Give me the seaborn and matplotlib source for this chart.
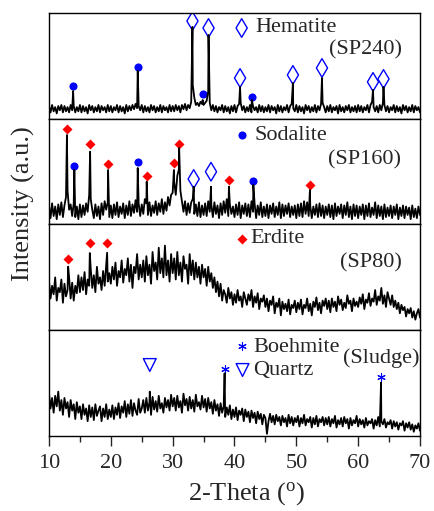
import numpy as np
import pandas as pd
import matplotlib.pyplot as plt
import seaborn as sns

sns.set_style("ticks")
plt.rcParams['font.family'] = ['Liberation Serif', 'DejaVu Serif']
plt.rcParams['mathtext.fontset'] = 'custom'
plt.rcParams['mathtext.rm'] = 'Liberation Serif'

# scan grid, 10-70 deg in 0.25 deg steps (intensities in arbitrary units 0-100 per panel)
two_theta = np.arange(241) * 0.25 + 10

# ---------------- SP240 ----------------
sp240_base = [12, 6, 13, 7, 11, 5, 12, 8, 13, 6, 12, 7, 11, 6, 13, 8, 12, 6, 11, 7,
              13, 6, 12, 7, 11, 5, 13, 8, 12, 6, 11, 7, 13, 6, 12, 8, 11, 6, 13, 7,
              12, 6, 11, 8, 13, 6, 12, 7, 11, 5, 13, 7, 12, 8, 13, 9, 14, 10, 12, 8,
              13, 6, 12, 7, 11, 6, 13, 8, 12, 6, 11, 7, 13, 6, 12, 8, 11, 6, 13, 7,
              12, 7, 13, 8, 12, 6, 13, 9, 14, 8, 13, 10, 16, 32, 20, 13, 15, 12, 16, 14,
              13, 15, 17, 26, 15, 8, 13, 7, 12, 6, 11, 8, 13, 6, 12, 7, 11, 5, 12, 7,
              13, 6, 12, 14, 15, 8, 12, 6, 11, 7, 13, 6, 12, 8, 11, 6, 13, 7, 12, 6,
              11, 7, 13, 6, 12, 8, 11, 5, 13, 7, 12, 6, 11, 8, 13, 6, 12, 14, 10, 7,
              13, 6, 12, 7, 11, 5, 13, 8, 12, 6, 11, 7, 13, 6, 12, 8, 14, 15, 11, 6,
              12, 7, 13, 6, 11, 8, 12, 5, 13, 7, 11, 6, 12, 8, 13, 6, 11, 7, 12, 6,
              13, 7, 12, 6, 11, 8, 13, 6, 13, 16, 11, 7, 12, 6, 13, 8, 15, 13, 7, 12,
              6, 11, 8, 13, 6, 12, 7, 11, 5, 13, 8, 12, 6, 11, 7, 13, 6, 12, 8, 11, 6]
sp240_peak_x = [13.9, 24.35, 33.2, 34.85, 35.8, 40.9, 42.8, 49.45, 54.15, 62.4, 64.1]
sp240_peak_y = [26.2, 45.2, 86.8, 17.7, 79.2, 30, 17.7, 33.8, 38.5, 27.2, 30]
sp240_hem_x = [33.2, 35.8, 40.9, 49.45, 54.15, 62.4, 64.1]
sp240_hem_y = [92.4, 85.8, 38.5, 41.4, 48, 34.8, 37.6]
sp240_sod_x = [13.9, 24.35, 34.85, 42.8]
sp240_sod_y = [31, 48.9, 23.4, 20.6]

# ---------------- SP160 ----------------
sp160_base = [18, 6, 20, 8, 17, 5, 19, 9, 21, 7, 18, 26, 32, 14, 19, 8, 20, 7, 17, 5,
              19, 7, 18, 9, 20, 12, 28, 24, 14, 6, 19, 8, 17, 5, 20, 9, 22, 14, 21, 7,
              18, 6, 19, 9, 21, 7, 17, 10, 20, 6, 18, 9, 22, 8, 19, 11, 23, 12, 20, 8,
              19, 10, 24, 20, 9, 21, 8, 18, 11, 22, 9, 20, 12, 24, 10, 21, 13, 26, 18, 28,
              30, 40, 28, 46, 52, 32, 22, 12, 22, 9, 20, 11, 21, 24, 10, 19, 8, 21, 7, 18,
              9, 20, 8, 22, 12, 19, 7, 21, 10, 18, 6, 20, 9, 22, 11, 24, 8, 19, 10, 17,
              7, 19, 9, 21, 6, 18, 10, 20, 8, 19, 7, 22, 12, 20, 6, 18, 9, 21, 7, 17,
              8, 19, 6, 18, 10, 20, 7, 17, 9, 21, 6, 19, 8, 18, 10, 20, 7, 17, 9, 18,
              6, 19, 8, 20, 7, 22, 10, 21, 8, 18, 6, 17, 9, 19, 7, 20, 8, 18, 6, 17,
              9, 19, 7, 18, 5, 20, 8, 17, 10, 19, 6, 18, 9, 21, 7, 17, 5, 19, 8, 18,
              6, 17, 9, 19, 5, 18, 8, 20, 7, 16, 9, 21, 6, 18, 8, 17, 5, 19, 7, 16,
              8, 18, 6, 17, 9, 19, 5, 16, 8, 18, 6, 17, 9, 16, 5, 18, 7, 15, 6, 17, 9]
sp160_peak_x = [12.9, 14.1, 16.65, 19.55, 24.35, 25.8, 30.2, 31.05, 33.4, 36.2, 39.1, 43.05, 52.2]
sp160_peak_y = [84.6, 51.5, 68.8, 51.5, 53.4, 40.5, 51.5, 72.3, 35.7, 35.7, 35.7, 37.4, 32.6]
sp160_erd_x = [12.9, 16.65, 19.55, 25.8, 30.2, 31.05, 39.1, 52.2]
sp160_erd_y = [90, 76.1, 57.2, 46.1, 58.4, 76.1, 42.1, 37.4]
sp160_sod_x = [14.1, 24.35, 43.05]
sp160_sod_y = [55.3, 59.4, 41.1]
sp160_hem_x = [33.4, 36.2]
sp160_hem_y = [43, 49.9]

# ---------------- SP80 ----------------
sp80_base = [46, 30, 42, 34, 50, 28, 40, 36, 48, 26, 44, 32, 38, 50, 30, 45, 28, 42, 35, 52,
             36, 50, 38, 55, 34, 48, 42, 58, 40, 52, 36, 60, 44, 50, 38, 56, 42, 62, 46, 54,
             44, 60, 48, 64, 42, 56, 50, 66, 45, 58, 52, 68, 46, 62, 40, 60, 54, 72, 48, 62,
             50, 66, 46, 70, 52, 62, 44, 74, 56, 64, 48, 78, 54, 68, 50, 80, 52, 66, 46, 72,
             54, 68, 48, 74, 52, 64, 46, 70, 58, 62, 44, 72, 52, 66, 48, 64, 50, 60, 44, 62,
             50, 58, 42, 60, 46, 54, 40, 50, 36, 46, 32, 44, 28, 38, 34, 26, 40, 30, 36, 24,
             34, 26, 38, 28, 32, 22, 36, 30, 24, 34, 28, 38, 22, 32, 26, 35, 20, 30, 27, 33,
             22, 30, 18, 28, 24, 32, 16, 26, 22, 30, 14, 27, 20, 25, 18, 29, 15, 24, 21, 28,
             17, 26, 20, 29, 15, 24, 21, 30, 18, 25, 14, 27, 22, 31, 19, 26, 16, 28, 23, 30,
             20, 28, 17, 30, 22, 27, 18, 32, 24, 29, 19, 26, 21, 33, 25, 28, 18, 30, 23, 27,
             22, 31, 25, 34, 20, 29, 26, 35, 23, 30, 27, 38, 24, 32, 28, 40, 25, 33, 22, 36,
             30, 24, 33, 22, 28, 20, 26, 16, 24, 19, 22, 13, 20, 16, 21, 12, 18, 10, 16, 20, 12]
sp80_peak_x = [13.1, 16.6, 19.4]
sp80_peak_y = [60.1, 73, 73.3]
sp80_erd_x = [13.1, 16.6, 19.4]
sp80_erd_y = [67.4, 82.8, 82.5]

# ---------------- Sludge ----------------
sludge_base = [40, 26, 36, 22, 38, 28, 42, 24, 34, 20, 36, 26, 32, 18, 34, 24, 30, 16, 32, 22,
               28, 16, 30, 20, 26, 14, 29, 18, 27, 15, 30, 19, 24, 28, 14, 26, 18, 30, 16, 25,
               18, 29, 16, 27, 20, 31, 17, 28, 22, 33, 18, 30, 21, 34, 19, 31, 24, 20, 35, 22,
               26, 34, 22, 36, 24, 32, 20, 37, 25, 33, 23, 38, 26, 31, 22, 36, 27, 34, 24, 39,
               28, 36, 24, 38, 27, 33, 22, 40, 29, 35, 24, 37, 26, 34, 23, 39, 28, 32, 25, 38,
               27, 35, 23, 36, 26, 32, 21, 34, 24, 30, 19, 31, 22, 28, 18, 27, 20, 29, 16, 25,
               18, 27, 15, 24, 20, 26, 14, 25, 18, 23, 13, 24, 17, 22, 12, 23, 16, 21, 11, 20,
               17, 2, 14, 21, 13, 19, 11, 20, 14, 18, 10, 19, 13, 17, 9, 20, 12, 18, 10, 17,
               13, 19, 9, 17, 12, 20, 10, 16, 13, 18, 8, 17, 11, 19, 9, 16, 13, 18, 10, 17,
               11, 18, 9, 16, 12, 19, 8, 15, 11, 17, 9, 18, 12, 16, 7, 17, 10, 15, 12, 19,
               9, 16, 11, 15, 8, 17, 10, 14, 12, 16, 7, 15, 10, 18, 9, 14, 11, 16, 8, 13,
               11, 15, 7, 14, 9, 13, 6, 12, 10, 14, 5, 12, 8, 13, 6, 11, 4, 10, 7, 12, 5]
sludge_peak_x = [26.3, 38.4, 63.7]
sludge_peak_y = [41.9, 59.3, 50.4]
sludge_qtz_x = [26.3]
sludge_qtz_y = [67.1]
sludge_boe_x = [38.4, 63.7]
sludge_boe_y = [63.1, 55.5]


def trace(base, px, py):
    df = pd.DataFrame({'x': np.concatenate([two_theta, px]),
                       'y': np.concatenate([base, py])})
    return df.sort_values('x')


fig = plt.figure(figsize=(4.34, 5.11), dpi=100)
gs = fig.add_gridspec(4, 1, left=0.1129, right=0.9677, bottom=0.1468, top=0.9746, hspace=0)
axes = [fig.add_subplot(gs[i]) for i in range(4)]

traces = [trace(sp240_base, sp240_peak_x, sp240_peak_y),
          trace(sp160_base, sp160_peak_x, sp160_peak_y),
          trace(sp80_base, sp80_peak_x, sp80_peak_y),
          trace(sludge_base, sludge_peak_x, sludge_peak_y)]

for ax, df in zip(axes, traces):
    sns.lineplot(data=df, x='x', y='y', ax=ax, color='black', lw=1.3,
                 estimator=None, sort=False)
    ax.set_xlim(10, 70)
    ax.set_ylim(0, 100)
    ax.set_yticks([])
    ax.set_xlabel('')
    ax.set_ylabel('')
    for s in ax.spines.values():
        s.set_linewidth(1.0)
        s.set_color('black')
    if ax is not axes[-1]:
        ax.set_xticks([])


def hem(ax, x, y):
    sns.scatterplot(x=x, y=y, ax=ax, marker='d', s=90, facecolor='none',
                    edgecolor='blue', linewidth=1.0, legend=False)


def sod(ax, x, y):
    sns.scatterplot(x=x, y=y, ax=ax, marker='o', s=34, color='blue',
                    edgecolor='blue', linewidth=0, legend=False)


def erd(ax, x, y):
    sns.scatterplot(x=x, y=y, ax=ax, marker='D', s=26, color='red',
                    edgecolor='red', linewidth=0, legend=False)


fs = 16
# SP240
ax = axes[0]
hem(ax, sp240_hem_x, sp240_hem_y)
sod(ax, sp240_sod_x, sp240_sod_y)
hem(ax, [41.16], [85.8])
ax.text(43.3, 85.8, 'Hematite', fontsize=fs, va='center')
ax.text(55.3, 65, '(SP240)', fontsize=fs, va='center')

# SP160
ax = axes[1]
erd(ax, sp160_erd_x, sp160_erd_y)
sod(ax, sp160_sod_x, sp160_sod_y)
hem(ax, sp160_hem_x, sp160_hem_y)
sod(ax, [41.2], [84.6])
ax.text(43.2, 84.6, 'Sodalite', fontsize=fs, va='center')
ax.text(55.1, 61, '(SP160)', fontsize=fs, va='center')

# SP80
ax = axes[2]
erd(ax, sp80_erd_x, sp80_erd_y)
erd(ax, [41.2], [86.3])
ax.text(42.6, 86.3, 'Erdite', fontsize=fs, va='center')
ax.text(57.1, 63.9, '(SP80)', fontsize=fs, va='center')

# Sludge
ax = axes[3]
sns.scatterplot(x=sludge_qtz_x + [41.3], y=sludge_qtz_y + [62.4], ax=ax, marker='v',
                s=85, facecolor='none', edgecolor='blue', linewidth=1.0, legend=False)
sns.scatterplot(x=sludge_boe_x + [41.2], y=sludge_boe_y + [85.1], ax=ax, marker=(6, 2, 0),
                s=30, color='blue', linewidth=0.8, legend=False)
ax.text(43.0, 83.2, 'Boehmite', fontsize=fs, va='center')
ax.text(43.0, 61.7, 'Quartz', fontsize=fs, va='center')
ax.text(57.5, 73.8, '(Sludge)', fontsize=fs, va='center')

ax.set_xticks(range(10, 71, 10))
ax.set_xticks(range(15, 70, 10), minor=True)
ax.tick_params(axis='x', which='major', direction='out', length=7, width=1.0,
               labelsize=fs, pad=6, bottom=True)
ax.tick_params(axis='x', which='minor', direction='out', length=4, width=1.0, bottom=True)

fig.text(0.569, 0.035, r'2-Theta ($\mathregular{^o}$)', fontsize=19, ha='center', va='center')
fig.text(0.053, 0.601, 'Intensity (a.u.)', fontsize=19, rotation=90, ha='center', va='center')

fig.savefig('out.png', dpi=100)
